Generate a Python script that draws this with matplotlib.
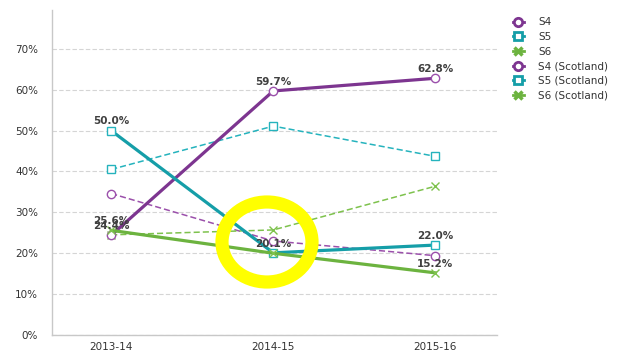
import matplotlib.pyplot as plt
from matplotlib.patches import Ellipse
from matplotlib.lines import Line2D

years = ["2013-14", "2014-15", "2015-16"]

s4 = [24.4, 59.7, 62.8]
s5 = [50.0, 20.1, 22.0]
s6 = [25.6, 20.0, 15.2]
s4_scot = [34.6, 23.0, 19.4]
s5_scot = [40.5, 51.1, 43.7]
s6_scot = [24.5, 25.7, 36.4]

PURPLE = "#7d3590"
TEAL = "#159ea8"
GREEN = "#6cb33f"
PURPLE_L = "#9b50ab"
TEAL_L = "#25b3bd"
GREEN_L = "#7ec24d"

W, H = 619, 353
fig = plt.figure(figsize=(W / 100, H / 100), dpi=100)
fig.patch.set_facecolor("white")
ax = fig.add_axes([52 / W, 18 / H, 445 / W, 325 / H])

x = list(range(len(years)))

# yellow hand-drawn highlight (behind the lines)
hl = Ellipse((267 / W, (H - 242) / H), 90 / W, 80 / H, transform=fig.transFigure,
             facecolor="none", edgecolor="#ffff00", linewidth=9.5, zorder=0.5)
fig.patches.append(hl)

# Scotland series (dashed)
ax.plot(x, s4_scot, color=PURPLE_L, ls=(0, (4, 2)), lw=1.1, marker="o",
        mfc="white", mec=PURPLE_L, ms=6, mew=1, zorder=3)
ax.plot(x, s5_scot, color=TEAL_L, ls=(0, (4, 2)), lw=1.1, marker="s",
        mfc="white", mec=TEAL_L, ms=6, mew=1, zorder=3)
ax.plot(x, s6_scot, color=GREEN_L, ls=(0, (4, 2)), lw=1.1, marker="x",
        mec=GREEN_L, ms=6, mew=1, zorder=3)

# school series (solid)
ax.plot(x, s4, color=PURPLE, lw=2.3, marker="o", mfc="white", mec=PURPLE_L,
        ms=6, mew=1, zorder=4)
ax.plot(x, s5, color=TEAL, lw=2.3, marker="s", mfc="white", mec=TEAL_L,
        ms=6, mew=1, zorder=4)
ax.plot(x, s6, color=GREEN, lw=2.3, marker="x", mec=GREEN_L,
        ms=6, mew=1, zorder=4)

# data labels on the solid series
for series in (s4, s5, s6):
    for xi, v in zip(x, series):
        if series is s6 and xi == 1:
            continue
        ax.annotate(f"{v:.1f}%", (xi, v), xytext=(0, 3), textcoords="offset points",
                    ha="center", va="bottom", fontsize=7.5, fontweight="bold",
                    color="#404040", zorder=6)

ax.set_xlim(-0.365, 2.38)
ax.set_ylim(0, 79.5)
ax.set_xticks(x)
ax.set_xticklabels(years)
ax.set_yticks(range(0, 80, 10))
ax.set_yticklabels([f"{t}%" for t in range(0, 80, 10)])
ax.tick_params(length=0, labelsize=7.5, colors="#333333")
ax.tick_params(axis="y", pad=10)
ax.tick_params(axis="x", pad=5)
ax.grid(axis="y", color="#d5d5d5", ls=(0, (4, 2)), lw=0.8)
ax.set_axisbelow(True)
for s in ("top", "right"):
    ax.spines[s].set_visible(False)
for s in ("left", "bottom"):
    ax.spines[s].set_color("#c8c8c8")
    ax.spines[s].set_linewidth(1)

handles = [
    Line2D([], [], color=PURPLE, lw=2, marker="o", mfc="white", mec=PURPLE, ms=6, mew=2),
    Line2D([], [], color=TEAL, lw=2, marker="s", mfc="white", mec=TEAL, ms=6, mew=2),
    Line2D([], [], color=GREEN, lw=2, marker="x", mec=GREEN, ms=6, mew=2.5),
    Line2D([], [], color=PURPLE, lw=2, marker="o", mfc="white", mec=PURPLE, ms=6, mew=2),
    Line2D([], [], color=TEAL, lw=2, marker="s", mfc="white", mec=TEAL, ms=6, mew=2),
    Line2D([], [], color=GREEN, lw=2, marker="x", mec=GREEN, ms=6, mew=2.5),
]
labels = ["S4", "S5", "S6", "S4 (Scotland)", "S5 (Scotland)", "S6 (Scotland)"]
fig.legend(handles, labels, loc="upper left", bbox_to_anchor=(508 / W, 1 - 12 / H),
           frameon=False, fontsize=7.5, handlelength=1.0, handletextpad=1.4,
           labelspacing=0.45, borderpad=0, labelcolor="#333333")

fig.savefig("out.png", dpi=100)
